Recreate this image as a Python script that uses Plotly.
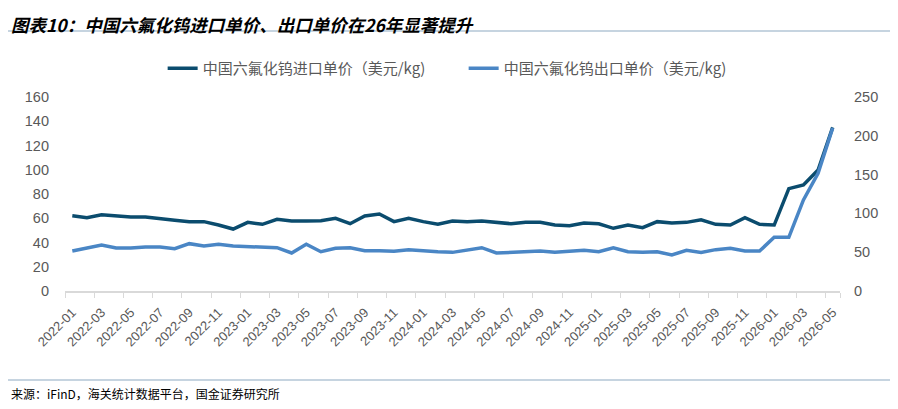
import plotly.graph_objects as go

# 月份 2022-01 ~ 2026-05
months = [f"{y}-{m:02d}" for y in range(2022, 2027) for m in range(1, 13)][:53]

# 中国六氟化钨进口单价（美元/kg），左轴
import_price = [62.1, 60.5, 62.9, 61.6, 61.0, 61.0, 59.4, 58.3, 57.2, 57.2,
                54.4, 51.1, 56.6, 55.0, 59.1, 57.7, 57.7, 58.0, 59.9, 55.5,
                61.9, 63.5, 57.2, 59.9, 57.2, 55.0, 57.7, 57.2, 57.7, 56.6,
                55.5, 56.6, 56.6, 54.4, 53.9, 56.1, 55.5, 51.7, 54.4, 52.2,
                57.2, 56.1, 56.6, 58.8, 55.0, 54.4, 60.5, 55.0, 54.4, 84.4,
                87.4, 99.8, 135.0]

# 中国六氟化钨出口单价（美元/kg），右轴
export_price = [51.5, 55.0, 59.3, 55.4, 55.4, 56.7, 56.7, 54.5, 61.0, 58.0,
                60.2, 58.0, 57.1, 57.1, 55.8, 49.0, 60.2, 50.6, 55.0, 55.8,
                52.0, 52.0, 51.1, 53.3, 51.5, 50.6, 49.8, 52.4, 55.8, 49.0,
                49.8, 50.6, 51.5, 49.8, 50.6, 52.4, 50.6, 55.8, 50.6, 49.8,
                50.6, 46.4, 52.4, 49.8, 53.3, 55.0, 51.5, 51.5, 69.2, 69.2,
                117.3, 151.7, 210.0]

tick_labels = months[::2]

fig = go.Figure()
fig.add_trace(go.Scatter(x=months, y=import_price, mode='lines',
                         name='中国六氟化钨进口单价（美元/kg)',
                         line=dict(color='#0B4C6E', width=3.5)))
fig.add_trace(go.Scatter(x=months, y=export_price, mode='lines',
                         name='中国六氟化钨出口单价（美元/kg)', yaxis='y2',
                         line=dict(color='#4A86C5', width=3.5)))

# 页面 body 自带 8px 边距，这里整体左移/上移 8px 抵消
fig.update_layout(
    width=898, height=409,
    margin=dict(l=57, r=66, t=89, b=126),
    paper_bgcolor='white', plot_bgcolor='white',
    font=dict(family='Liberation Sans, Noto Sans CJK SC', color='#595959', size=14),
    showlegend=True,
    legend=dict(orientation='h', x=0.126, y=1.147, xanchor='left', yanchor='middle',
                font=dict(size=15, color='#595959', family='Noto Sans CJK SC'),
                entrywidth=256, entrywidthmode='pixels', itemwidth=30),
    xaxis=dict(type='category', tickmode='array', tickvals=tick_labels,
               ticktext=tick_labels, tickangle=-45, tickson='boundaries',
               ticks='outside', ticklen=5, tickcolor='#D9D9D9',
               showline=True, linecolor='#D9D9D9', linewidth=1.5,
               showgrid=False, range=[-0.5, 52.5], automargin=False,
               ticklabelstandoff=7,
               tickfont=dict(size=13, color='#595959')),
    yaxis=dict(range=[0, 160], dtick=20, showgrid=False, zeroline=False,
               showline=False, ticklabelstandoff=15, automargin=False,
               tickfont=dict(size=14.5, color='#595959')),
    yaxis2=dict(range=[0, 250], dtick=50, overlaying='y', side='right',
                showgrid=False, zeroline=False, showline=False,
                ticklabelstandoff=13, automargin=False,
                tickfont=dict(size=14.5, color='#595959')),
    annotations=[
        dict(text='<b><i>图表10：中国六氟化钨进口单价、出口单价在26年显著提升</i></b>',
             xref='paper', yref='paper', x=-56/775, y=1 + 73/194,
             xanchor='left', yanchor='middle', showarrow=False,
             font=dict(size=17.5, color='#000000', family='Noto Sans CJK SC')),
        dict(text='来源：iFinD，海关统计数据平台，国金证券研究所',
             xref='paper', yref='paper', x=-56/775, y=-102/194,
             xanchor='left', yanchor='middle', showarrow=False,
             font=dict(size=12, color='#000000', family='Noto Sans CJK SC')),
    ],
    shapes=[
        dict(type='line', xref='paper', yref='paper', x0=-57/775, x1=841/775,
             y0=1 + 66/194, y1=1 + 66/194, line=dict(color='#8EA9C1', width=1.2)),
        dict(type='line', xref='paper', yref='paper', x0=-57/775, x1=841/775,
             y0=-89/194, y1=-89/194, line=dict(color='#8EA9C1', width=1.2)),
    ],
)

fig.write_html("out.html")
